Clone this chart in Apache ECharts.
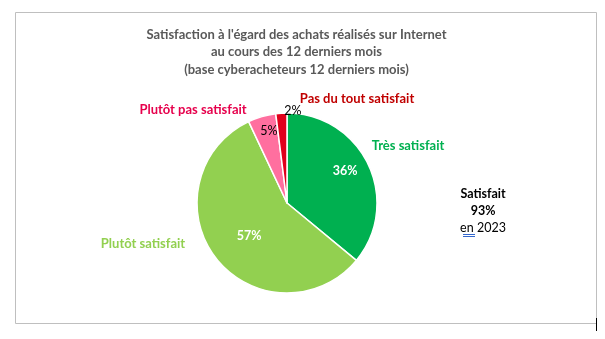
<!DOCTYPE html>
<html><head><meta charset="utf-8">
<script src="https://cdn.jsdelivr.net/npm/echarts@6/dist/echarts.min.js"></script>
<style>html,body{margin:0;padding:0;background:#fff}#c{width:605px;height:339px}</style>
</head><body><div id="c"></div>
<script>
const categories = ["Très satisfait", "Plutôt satisfait", "Plutôt pas satisfait", "Pas du tout satisfait"];
const values = [36, 57, 5, 2];
const titleLines = ["Satisfaction à l'égard des achats réalisés sur Internet", "au cours des 12 derniers mois", "(base cyberacheteurs 12 derniers mois)"];
const noteLines = ["Satisfait", "93%", "en 2023"];

const FONT = "Lato, 'Open Sans', sans-serif";
const sliceColors = ['#00B050', '#92D050', '#FF6F9F', '#E0001B'];
const nameColors = ['#00B050', '#92D050', '#E6004C', '#C00000'];
const pctColors = ['#fff', '#fff', '#000', '#000'];
const pctPos = [[345,171],[249,236],[269,131],[293,111]];
const namePos = [[408,146],[143,244],[193,110],[357,99]];

const chart = echarts.init(document.getElementById('c'), null, {renderer:'canvas'});
const data = categories.map((n,i)=>({name:n, value:values[i], itemStyle:{color:sliceColors[i]},
  label:{color:pctColors[i], fontWeight: i<2?'bold':'normal'}}));
chart.setOption({
  animation:false,
  graphic:[
    {type:'rect', shape:{x:15.5,y:12.5,width:581,height:311}, style:{fill:'none', stroke:'#BFBFBF', lineWidth:1}, z:0},
    {type:'line', shape:{x1:596.5,y1:318,x2:596.5,y2:331}, style:{stroke:'#000', lineWidth:1}},
    {type:'text', x:296.5, y:26, style:{text:titleLines.join('\n'), fill:'#595959', fontFamily:FONT, fontSize:13, fontWeight:'bold', align:'center', verticalAlign:'top', lineHeight:17.5}, z:5},
    {type:'text', x:483, y:185, style:{text:'{b|'+noteLines[0]+'}\n{b|'+noteLines[1]+'}\n'+noteLines[2], fill:'#000', fontFamily:FONT, fontSize:12.5, align:'center', verticalAlign:'top', lineHeight:17,
      rich:{b:{fontWeight:'bold', fontFamily:FONT, fontSize:12.5, lineHeight:17}}}, z:5},
    {type:'line', shape:{x1:463,y1:234.5,x2:475,y2:234.5}, style:{stroke:'#3366CC', lineWidth:1}},
    {type:'line', shape:{x1:463,y1:236.5,x2:475,y2:236.5}, style:{stroke:'#3366CC', lineWidth:1}}
  ],
  series:[
    {type:'pie', center:[287,203], radius:90, startAngle:90, clockwise:true, data:data,
     itemStyle:{borderColor:'#fff', borderWidth:1.5},
     label:{show:true, position:'inside', formatter:'{d}%', fontFamily:FONT, fontSize:12.5},
     labelLine:{show:false},
     labelLayout:(p)=>({x:pctPos[p.dataIndex][0], y:pctPos[p.dataIndex][1], align:'center', verticalAlign:'middle'}),
     emphasis:{disabled:true}
    },
    {type:'pie', center:[287,203], radius:90, startAngle:90, clockwise:true, silent:true,
     data:categories.map((n,i)=>({name:n, value:values[i], itemStyle:{color:'rgba(0,0,0,0)'}, label:{color:nameColors[i]}})),
     label:{show:true, position:'outside', formatter:'{b}', fontFamily:FONT, fontSize:13, fontWeight:'bold'},
     labelLine:{show:false},
     labelLayout:(p)=>({x:namePos[p.dataIndex][0], y:namePos[p.dataIndex][1], align:'center', verticalAlign:'middle'}),
     emphasis:{disabled:true}
    }
  ]
});
</script></body></html>
